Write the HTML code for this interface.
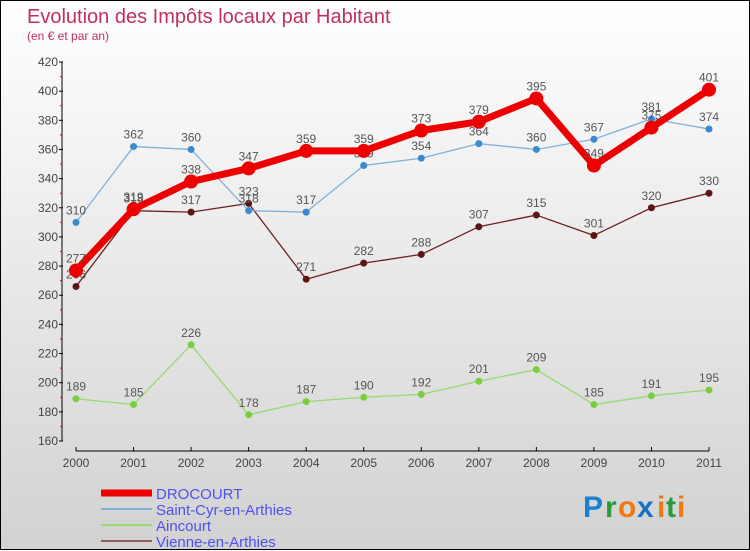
<!DOCTYPE html>
<html><head><meta charset="utf-8"><style>
body{margin:0;width:750px;height:550px;overflow:hidden;font-family:"Liberation Sans",sans-serif}
#wrap{position:relative;width:748px;height:548px;border:1px solid #000;background:linear-gradient(#ffffff,#d2d2d2)}
svg{position:absolute;left:0;top:0}
</style></head><body>
<div id="wrap">
<svg id="chart" width="750" height="550">
<text x="26" y="22" font-size="20" fill="#c0305a">Evolution des Impôts locaux par Habitant</text>
<text x="26" y="39" font-size="12" fill="#c0305a">(en € et par an)</text>
<g id="axes"></g><g id="series"></g><g id="legend"></g>
<g font-size="30" font-weight="bold">
<text x="582" y="516" fill="#1a80d0">P</text><text x="604" y="516" fill="#2a9a3a">r</text><text x="617" y="516" fill="#f07a10">o</text><text x="636" y="516" fill="#1a70c0">x</text><text x="656" y="516" fill="#f07a10">i</text><text x="665" y="516" fill="#2a9a3a">t</text><text x="676" y="516" fill="#f07a10">i</text>
</g>
</svg></div>
<script>
const years=[2000,2001,2002,2003,2004,2005,2006,2007,2008,2009,2010,2011];
const drocourt=[277,319,338,347,359,359,373,379,395,349,375,401];
const saintCyr=[310,362,360,318,317,349,354,364,360,367,381,374];
const aincourt=[189,185,226,178,187,190,192,201,209,185,191,195];
const vienne=[266,318,317,323,271,282,288,307,315,301,320,330];
const yTicks=[160,180,200,220,240,260,280,300,320,340,360,380,400,420];
const NS="http://www.w3.org/2000/svg";
const X=i=>75+i*(708-75)/11;
const Y=v=>440-(v-160)*(440-61)/260;
function mk(t,a,p){const e=document.createElementNS(NS,t);for(const k in a)e.setAttribute(k,a[k]);p.appendChild(e);return e;}
const ax=document.getElementById('axes');
const yAxis=mk('line',{x1:61,y1:Y(420),x2:61,y2:Y(160),stroke:'#000','stroke-width':1},ax);


yTicks.forEach(v=>{
 mk('line',{x1:58,y1:Y(v),x2:62,y2:Y(v),stroke:'#000'},ax);
 if(v<420)mk('line',{x1:59,y1:Y(v+10),x2:61,y2:Y(v+10),stroke:'#e00'},ax);
 const t=mk('text',{x:57,y:Y(v)+4,'text-anchor':'end','font-size':12,fill:'#444'},ax);t.textContent=v;
 
 
});
const xAxis=mk('line',{x1:75,y1:450,x2:708,y2:450,stroke:'#000'},ax);


years.forEach((y,i)=>{
 mk('line',{x1:X(i),y1:446,x2:X(i),y2:450,stroke:'#000'},ax);
 const t=mk('text',{x:X(i),y:466,'text-anchor':'middle','font-size':12,fill:'#444'},ax);t.textContent=y;
 
 
});
const sg=document.getElementById('series');
const series=[
 {name:'vienne-line',d:vienne,c:'#6b2020',w:1.3,r:3.5,dot:'#5a1515'},
 {name:'aincourt-line',d:aincourt,c:'#9ad870',w:1.3,r:3.5,dot:'#7ccc40'},
 {name:'saint-cyr-line',d:saintCyr,c:'#80b0dc',w:1.3,r:3.5,dot:'#3a8ad0'},
 {name:'drocourt-line',d:drocourt,c:'#ee0000',w:7,r:7,dot:'#ee0000'}];
series.forEach(s=>{
 const g=mk('g',{},sg);
 
 
 mk('polyline',{points:s.d.map((v,i)=>X(i)+','+Y(v)).join(' '),fill:'none',stroke:s.c,'stroke-width':s.w,'stroke-linejoin':'round'},g);
 s.d.forEach((v,i)=>{
  const c=mk('circle',{cx:X(i),cy:Y(v),r:s.r,fill:s.dot},g);
  
  
  const t=mk('text',{x:X(i),y:Y(v)-8,'text-anchor':'middle','font-size':12,fill:'#555'},g);t.textContent=v;
  
  
 });
});
const lg=document.getElementById('legend');
const leg=[['DROCOURT','#ee0000',7],['Saint-Cyr-en-Arthies','#80b0dc',2],['Aincourt','#9ad870',2],['Vienne-en-Arthies','#906060',2]];
leg.forEach((l,i)=>{
 const y=492+i*16;
 const g=mk('g',{},lg);
 
 
 mk('line',{x1:100,y1:y,x2:151,y2:y,stroke:l[1],'stroke-width':l[2]},g);
 const t=mk('text',{x:155,y:y+6,'font-size':15,fill:'#5050f0'},g);t.textContent=l[0];
});
</script>
</body></html>
